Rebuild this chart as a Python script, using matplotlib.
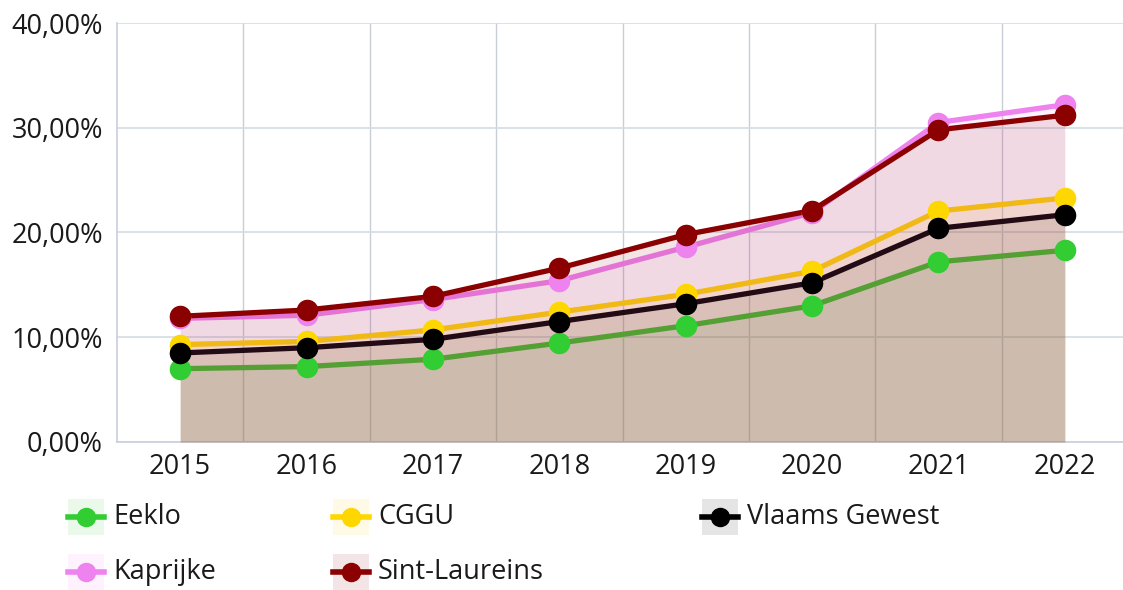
import matplotlib
matplotlib.use("Agg")
import matplotlib.pyplot as plt
from matplotlib.patches import Rectangle
from matplotlib.lines import Line2D
from matplotlib.ticker import FuncFormatter

years = ["2015", "2016", "2017", "2018", "2019", "2020", "2021", "2022"]
eeklo = [7.0, 7.2, 7.9, 9.45, 11.1, 13.0, 17.2, 18.3]
cggu = [9.3, 9.6, 10.7, 12.4, 14.1, 16.3, 22.05, 23.3]
vlaams = [8.5, 9.0, 9.8, 11.5, 13.2, 15.2, 20.4, 21.7]
kaprijke = [11.8, 12.1, 13.6, 15.4, 18.6, 21.9, 30.5, 32.2]
sint_laureins = [12.0, 12.6, 13.9, 16.6, 19.8, 22.1, 29.8, 31.2]

names = ["Eeklo", "CGGU", "Vlaams Gewest", "Kaprijke", "Sint-Laureins"]
series = [eeklo, cggu, vlaams, kaprijke, sint_laureins]
colors = ["#32cd32", "#ffd700", "#000000", "#ee82ee", "#8b0000"]

plt.rcParams['font.family'] = ['Open Sans', 'DejaVu Sans']
W, H = 1123, 590
fig = plt.figure(figsize=(W / 100, H / 100), dpi=100)
ax = fig.add_axes([117 / W, (H - 442) / H, 1011 / W, 419 / H])

x = list(range(len(years)))
for i, (vals, c) in enumerate(zip(series, colors)):
    ax.fill_between(x, 0, vals, color=c, alpha=0.1, linewidth=0, zorder=2 + 2 * i)
    ax.plot(x, vals, color=c, lw=3.8, solid_capstyle='round', zorder=3 + 2 * i)
for i, (vals, c) in enumerate(zip(series, colors)):
    ax.plot(x, vals, linestyle='none', marker='o', ms=14.5, mfc=c, mec=c, zorder=20 + i)

ax.set_xlim(-0.5, len(years) - 0.5)
ax.set_ylim(0, 40)
ax.set_yticks([0, 10, 20, 30, 40])
ax.yaxis.set_major_formatter(FuncFormatter(lambda v, p: f"{v:.2f}".replace(".", ",") + "%"))
ax.set_xticks(x)
ax.set_xticklabels(years)
ax.set_xticks([i + 0.5 for i in x[:-1]], minor=True)
ax.grid(True, axis='y', which='major', color="#d6dce4", lw=1.2, zorder=0)
ax.grid(True, axis='x', which='minor', color="#c9ced6", lw=1.0, zorder=0)
ax.grid(False, axis='x', which='major')
ax.tick_params(axis='both', which='both', length=0, labelsize=19.5, colors="#1a1a1a")
ax.tick_params(axis='y', pad=10)
ax.tick_params(axis='x', pad=8)
for s in ['top', 'right']:
    ax.spines[s].set_visible(False)
for s in ['left', 'bottom']:
    ax.spines[s].set_color("#c8d0dc")
    ax.spines[s].set_linewidth(1.2)

# legend drawn manually
def px(xp, yp):
    return xp / W, 1 - yp / H

legend_pos = [(68, 517), (333, 517), (702, 517), (68, 572), (333, 572)]
for name, c, (lx, ly) in zip(names, colors, legend_pos):
    bx, by = px(lx, ly + 18)
    fig.add_artist(Rectangle((bx, by), 36 / W, 36 / H, transform=fig.transFigure,
                             facecolor=c, alpha=0.1, edgecolor='none'))
    x0, yy = px(lx, ly)
    x1, _ = px(lx + 36, ly)
    fig.add_artist(Line2D([x0, x1], [yy, yy], transform=fig.transFigure, color=c, lw=4))
    xm, _ = px(lx + 18, ly)
    fig.add_artist(Line2D([xm], [yy], transform=fig.transFigure, marker='o', ms=13,
                          mfc=c, mec=c, linestyle='none'))
    tx, ty = px(lx + 45, ly)
    fig.text(tx, ty, name, fontsize=19.5, color="#1a1a1a", va='center', ha='left')

fig.savefig("out.png", dpi=100)
